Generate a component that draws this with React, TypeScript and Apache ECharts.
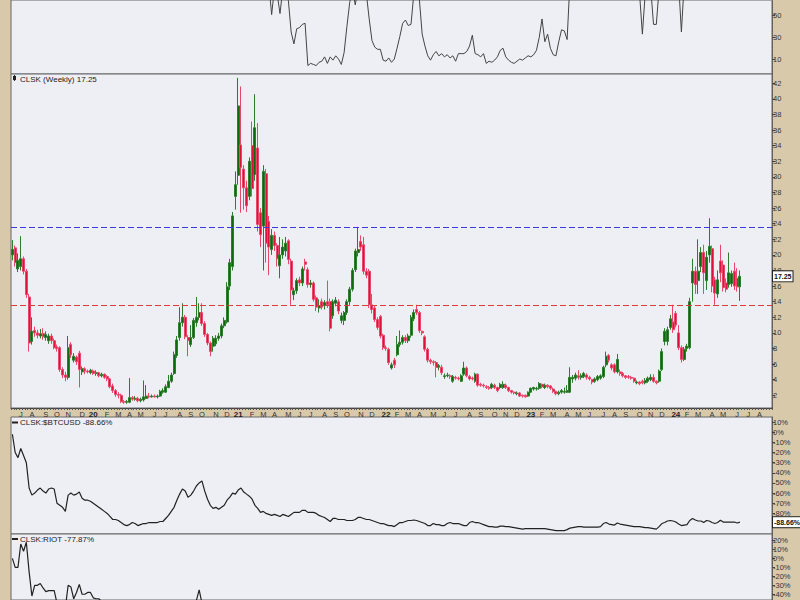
import React, { useEffect, useRef } from 'react';
import * as echarts from 'echarts';

const START_UTC = Date.UTC(2019, 5, 14);
const WEEK_COUNT = 273;
const MONTH_LETTERS = ['J', 'F', 'M', 'A', 'M', 'J', 'J', 'A', 'S', 'O', 'N', 'D'];

// [open, close, low, high] weekly
const candles: number[][] = [
  [20.0, 20.7, 19.3, 21.9], [20.9, 19.0, 18.5, 21.2], [18.2, 19.3, 17.8, 20.2], [18.5, 19.5, 18.0, 22.4], [19.5, 17.9, 17.5, 19.8],
  [17.9, 14.9, 14.5, 18.2], [14.6, 8.7, 7.6, 15.0], [8.9, 10.2, 8.5, 12.0], [10.3, 10.0, 9.5, 10.8], [10.0, 9.7, 9.3, 10.4],
  [9.6, 9.9, 9.3, 10.5], [9.9, 9.5, 9.1, 10.6], [9.4, 9.8, 9.0, 10.2], [9.0, 9.6, 8.6, 9.9], [9.6, 9.0, 8.6, 9.9],
  [9.0, 8.1, 7.9, 9.3], [8.2, 8.0, 7.6, 8.5], [8.1, 5.3, 5.0, 8.3], [5.3, 4.6, 4.2, 5.6], [4.6, 4.3, 3.8, 5.0],
  [4.3, 8.1, 4.0, 9.6], [8.5, 7.2, 6.8, 8.8], [6.5, 7.0, 6.2, 7.4], [6.9, 6.3, 5.9, 7.1], [7.4, 5.3, 3.0, 7.7],
  [5.0, 5.4, 4.6, 5.7], [5.4, 5.1, 4.7, 5.6], [5.1, 5.0, 4.8, 5.3], [4.9, 5.2, 4.7, 5.4], [5.1, 4.8, 4.6, 5.3],
  [4.8, 4.9, 4.5, 5.2], [4.9, 4.5, 4.3, 5.0], [4.5, 4.7, 4.3, 4.9], [4.7, 4.3, 4.1, 4.8], [4.4, 4.1, 3.8, 4.6],
  [4.1, 3.1, 2.9, 4.2], [3.2, 2.6, 2.3, 3.5], [2.6, 2.1, 1.8, 2.8], [2.1, 2.0, 1.6, 2.4], [2.0, 1.2, 1.0, 2.2],
  [1.2, 1.1, 0.9, 1.4], [1.1, 1.2, 0.9, 1.4], [1.1, 1.7, 1.0, 4.2], [1.7, 1.5, 1.3, 1.9], [1.5, 1.6, 1.3, 1.9],
  [1.6, 1.3, 1.1, 1.8], [1.3, 1.5, 1.1, 1.7], [1.4, 1.8, 1.2, 3.9], [1.6, 1.9, 1.5, 3.3], [1.9, 1.8, 1.6, 2.3],
  [1.8, 1.9, 1.7, 2.1], [1.9, 1.8, 1.7, 2.1], [1.8, 1.9, 1.6, 2.1], [1.9, 2.5, 1.8, 2.7], [2.4, 2.6, 2.2, 2.9],
  [2.4, 3.1, 2.3, 3.4], [3.0, 3.8, 2.9, 4.6], [3.8, 4.6, 3.6, 4.9], [4.8, 7.2, 4.6, 7.6], [7.1, 9.1, 6.8, 9.6],
  [9.4, 11.3, 9.0, 13.3], [11.3, 12.0, 10.8, 13.8], [12.0, 9.5, 9.2, 12.3], [9.4, 9.0, 7.0, 9.7], [8.5, 9.4, 8.2, 11.0],
  [9.4, 11.6, 9.2, 11.9], [11.3, 12.0, 10.8, 14.6], [12.0, 12.6, 11.6, 13.8], [12.6, 11.2, 10.9, 13.8], [11.2, 9.8, 9.5, 11.5],
  [9.8, 8.7, 8.4, 10.0], [8.7, 7.6, 7.0, 8.9], [8.3, 9.3, 7.6, 9.6], [8.6, 9.3, 8.3, 9.7], [9.3, 9.6, 9.0, 10.0],
  [9.6, 10.9, 9.3, 11.2], [10.9, 11.6, 10.6, 12.0], [11.4, 15.9, 11.2, 16.5], [16.0, 19.0, 15.5, 19.5], [18.5, 25.0, 18.0, 25.5],
  [27.5, 29.0, 25.8, 30.7], [30.2, 39.1, 29.0, 42.7], [34.1, 31.2, 25.4, 41.6], [31.0, 28.6, 25.8, 31.5], [28.6, 26.3, 25.5, 29.5],
  [27.5, 32.0, 27.0, 32.5], [34.0, 28.5, 27.5, 37.1], [30.3, 36.3, 29.5, 40.6], [33.7, 23.9, 23.0, 36.9], [25.4, 22.6, 21.0, 26.0],
  [23.7, 30.7, 18.0, 31.5], [30.4, 21.5, 19.0, 31.0], [24.3, 21.0, 17.4, 25.0], [20.7, 22.5, 20.0, 23.3], [22.5, 21.2, 20.5, 23.0],
  [21.2, 19.5, 18.5, 21.5], [18.6, 20.0, 17.0, 22.3], [20.0, 21.0, 19.5, 22.0], [20.5, 21.5, 19.8, 22.3], [21.8, 19.4, 18.8, 22.0],
  [19.2, 15.5, 13.6, 19.5], [14.9, 15.4, 14.2, 15.8], [15.4, 16.7, 15.0, 17.0], [16.8, 16.4, 16.0, 17.2], [16.4, 18.2, 16.0, 18.5],
  [19.1, 18.8, 18.0, 19.5], [18.1, 16.2, 15.8, 18.4], [16.2, 16.4, 15.8, 16.8], [16.4, 14.3, 14.0, 16.6], [14.5, 13.3, 12.8, 14.8],
  [13.2, 13.5, 12.6, 14.3], [14.0, 13.3, 13.0, 14.4], [13.5, 13.9, 13.0, 14.2], [14.0, 13.6, 13.2, 16.7], [14.0, 10.6, 10.2, 14.4],
  [12.2, 14.0, 11.8, 14.3], [13.8, 14.2, 13.4, 14.6], [14.0, 12.8, 12.4, 14.3], [11.6, 12.2, 11.2, 12.6], [11.6, 12.6, 11.0, 12.8],
  [12.6, 14.0, 12.3, 14.3], [14.0, 15.6, 13.6, 15.9], [15.6, 18.0, 15.3, 18.3], [18.1, 20.5, 17.8, 20.8], [20.3, 20.7, 19.8, 23.6],
  [21.7, 21.0, 20.5, 22.5], [21.3, 17.9, 17.5, 22.3], [17.9, 17.4, 17.0, 18.3], [17.9, 13.6, 13.2, 18.2], [13.6, 13.0, 12.5, 15.0],
  [13.2, 11.7, 11.4, 13.5], [11.7, 10.7, 10.4, 12.0], [12.1, 9.6, 9.3, 12.3], [9.7, 8.1, 7.8, 9.9], [8.1, 8.0, 7.7, 8.4],
  [7.9, 6.2, 5.9, 8.1], [5.5, 5.9, 5.3, 6.2], [6.5, 5.9, 5.5, 6.8], [7.2, 8.5, 7.0, 9.6], [8.5, 8.8, 8.2, 10.3],
  [8.8, 9.4, 8.5, 9.7], [9.4, 9.0, 8.7, 9.7], [9.0, 9.6, 8.7, 9.9], [9.7, 12.0, 9.4, 12.3], [11.8, 12.6, 11.5, 13.0],
  [13.0, 12.6, 12.3, 13.6], [12.6, 10.3, 10.0, 12.8], [10.2, 10.0, 9.7, 10.3], [9.5, 7.9, 7.6, 9.7], [7.9, 6.5, 6.2, 8.1],
  [6.5, 6.3, 6.0, 6.7], [6.3, 6.2, 5.8, 6.5], [6.2, 5.6, 4.3, 6.4], [5.6, 5.8, 5.2, 6.0], [5.6, 4.9, 4.6, 5.9],
  [4.4, 4.5, 4.1, 4.8], [4.5, 4.6, 4.3, 4.9], [4.5, 4.4, 4.1, 4.7], [3.8, 4.4, 3.6, 4.6], [4.3, 4.2, 4.0, 4.5],
  [4.2, 4.1, 3.9, 4.4], [3.8, 4.5, 3.7, 4.7], [4.7, 5.5, 4.5, 6.3], [5.5, 4.5, 4.3, 5.7], [4.4, 4.1, 3.9, 4.6],
  [4.2, 4.1, 3.9, 4.4], [3.8, 4.7, 3.6, 4.9], [4.7, 3.3, 3.1, 4.8], [3.4, 3.3, 3.1, 3.6], [3.3, 3.2, 3.0, 3.5],
  [3.1, 3.0, 2.8, 3.3], [3.0, 2.9, 2.7, 3.2], [3.0, 3.4, 2.8, 3.6], [3.3, 3.0, 2.8, 3.5], [3.0, 2.6, 2.4, 3.1],
  [3.0, 3.4, 2.8, 3.6], [3.0, 3.4, 2.8, 3.8], [3.3, 3.0, 2.8, 3.5], [3.0, 2.6, 2.4, 3.1], [2.6, 2.4, 2.2, 2.7],
  [2.4, 2.3, 2.1, 2.5], [2.2, 2.3, 2.0, 2.5], [2.3, 1.9, 1.8, 2.4], [2.0, 1.9, 1.7, 2.1], [2.0, 1.8, 1.7, 2.1],
  [1.9, 2.4, 1.8, 2.5], [2.4, 2.9, 2.3, 3.0], [2.8, 3.0, 2.6, 3.1], [2.8, 2.9, 2.6, 3.1], [2.9, 3.5, 2.7, 3.7],
  [3.4, 3.1, 2.9, 3.5], [3.0, 3.3, 2.8, 3.5], [3.3, 3.1, 2.9, 3.4], [3.2, 2.9, 2.7, 3.3], [2.8, 2.5, 2.3, 3.0],
  [2.5, 2.2, 2.0, 2.6], [2.2, 2.4, 2.0, 2.6], [2.4, 2.6, 2.2, 2.8], [2.4, 2.5, 2.2, 3.0], [2.4, 2.6, 2.3, 3.3],
  [2.4, 4.3, 2.3, 5.6], [4.1, 4.3, 3.6, 4.6], [4.2, 4.6, 3.9, 4.9], [4.5, 4.3, 4.0, 5.2], [4.3, 4.5, 4.0, 4.8],
  [4.4, 4.8, 4.2, 5.0], [4.6, 4.3, 4.0, 4.8], [4.3, 4.1, 3.9, 4.5], [4.0, 3.7, 3.4, 4.1], [3.8, 4.1, 3.6, 4.3],
  [4.0, 4.4, 3.8, 4.6], [4.2, 4.5, 4.0, 4.7], [4.4, 5.6, 4.2, 5.8], [5.9, 7.0, 5.6, 7.6], [7.1, 6.5, 6.2, 7.3],
  [5.9, 5.5, 5.2, 6.1], [5.9, 5.0, 4.8, 6.1], [5.0, 6.6, 4.8, 7.3], [5.0, 4.8, 4.5, 5.3], [4.8, 4.5, 4.3, 5.0],
  [4.5, 4.3, 4.1, 4.6], [4.4, 4.3, 4.1, 4.6], [4.3, 4.2, 4.0, 4.5], [4.2, 3.8, 3.6, 4.3], [3.6, 3.7, 3.4, 3.9],
  [3.7, 3.5, 3.3, 3.8], [3.8, 3.6, 3.4, 4.0], [3.6, 3.9, 3.4, 4.2], [3.8, 4.2, 3.6, 4.4], [4.0, 4.3, 3.8, 4.7],
  [4.3, 3.8, 3.6, 4.7], [3.8, 3.6, 3.4, 3.9], [3.8, 5.1, 3.6, 5.3], [5.3, 7.6, 5.1, 8.0], [8.9, 10.2, 8.4, 10.6],
  [8.9, 10.4, 8.4, 10.8], [10.7, 11.8, 10.4, 12.3], [11.4, 10.4, 10.0, 13.6], [12.5, 11.0, 10.7, 12.8], [10.0, 8.1, 7.8, 11.0],
  [8.1, 6.6, 6.2, 8.4], [6.6, 7.9, 6.4, 8.2], [8.0, 8.3, 7.6, 8.6], [8.1, 14.0, 7.9, 14.5], [16.4, 17.9, 14.0, 19.5],
  [17.9, 16.2, 15.0, 18.5], [16.7, 17.9, 15.0, 22.0], [18.5, 20.3, 17.8, 21.0], [20.3, 17.7, 15.0, 21.3], [16.7, 19.7, 15.5, 20.5],
  [20.0, 21.1, 19.0, 24.7], [20.8, 16.0, 15.2, 21.2], [16.8, 15.1, 13.6, 17.2], [15.0, 16.8, 14.5, 18.0], [19.2, 17.7, 16.5, 21.3],
  [18.7, 15.8, 15.3, 19.3], [16.4, 15.6, 15.2, 17.0], [16.2, 17.7, 15.8, 20.3], [16.3, 17.6, 15.9, 18.0], [17.9, 16.0, 15.5, 19.0],
  [17.0, 15.9, 15.3, 18.3], [15.9, 17.25, 14.1, 18.0],
];

// upper indicator panel (values above ~64 run off the top of the panel)
const oscillator: number[] = [
  80, 80, 80, 80, 80, 80, 80, 80, 80, 80, 80, 80, 80, 80, 80, 80, 80, 80, 80, 80,
  80, 80, 80, 80, 80, 80, 80, 80, 80, 80, 80, 80, 80, 80, 80, 80, 80, 80, 80, 80,
  80, 80, 80, 80, 80, 80, 80, 80, 80, 80, 80, 80, 80, 80, 80, 80, 80, 80, 80, 80,
  80, 80, 80, 80, 80, 80, 80, 80, 80, 80, 80, 80, 80, 80, 80, 80, 80, 80, 80, 80,
  80, 80, 80, 80, 80, 80, 80, 80, 80, 80, 80, 80,
  80, 51, 75, 70, 52, 75, 70, 64, 35, 24, 38, 39, 42, 43, 4, 6, 5, 4, 7, 8,
  12, 6, 12, 9, 13, 10, 5, 16, 40, 62, 75, 60, 75, 80, 80, 70, 47, 27, 21, 19,
  19, 9, 8, 11, 7, 10, 20, 31, 43, 46, 41, 42, 70, 80, 65, 33, 22, 13, 9, 14,
  17, 13, 15, 12, 14, 11, 13, 8, 15, 15, 15, 17, 22, 32, 15, 14, 12, 15, 6, 8,
  7, 9, 12, 18, 20, 12, 9, 7, 6, 8, 10, 9, 11, 13, 12, 14, 18, 30, 47, 26,
  33, 20, 14, 13, 26, 37, 36, 28,
  80, 80, 80, 80, 80, 80, 80, 80, 80, 80, 80, 80, 80, 80, 80, 80, 80, 80, 80, 80, 80, 80, 80, 80, 80,
  70, 33, 70, 80, 75, 42, 42, 75, 80, 80, 80, 80, 80, 80, 80, 35,
  80, 80, 80, 80, 80, 80, 80, 80, 80, 80, 80, 80, 80, 80, 80, 80, 80, 80, 80, 80, 80,
];

// CLSK:$BTCUSD performance, %
const btcRatio: number[] = [
  -2, -20, -25, -16, -23, -30, -55, -62, -60, -57, -55, -58, -60, -56, -55, -56, -70, -72, -74, -78,
  -62, -60, -62, -61, -59, -65, -67, -67, -68, -70, -72, -74, -76, -78, -80, -83, -86, -86, -87, -89,
  -91, -92, -91, -89, -90, -92, -91, -90, -90, -89, -89, -89, -89, -88, -88, -85, -82, -78, -74, -67,
  -61, -56, -58, -64, -62, -58, -53, -50, -48, -58, -66, -72, -75, -74, -76, -74, -72, -67, -64, -60,
  -61, -57, -55, -59, -61, -63, -66, -72, -75, -79, -78, -80, -81, -82, -81, -82, -83, -81, -82, -83,
  -81, -79, -79, -79, -77, -77, -79, -79, -79, -80, -82, -83, -84, -86, -88, -85, -85, -86, -86, -86,
  -87, -87, -87, -86, -84, -84, -85, -86, -86, -87, -88, -89, -90, -90, -91, -92, -92, -93, -91, -89,
  -89, -88, -87, -87, -86.5, -87, -88, -89, -90, -92, -92, -90, -91, -91, -92, -92, -90, -89, -90, -90,
  -90, -91, -92, -92, -89, -88, -89, -89, -90, -91, -92, -93, -93, -93.5, -93.5, -92.5, -92.5, -93, -93, -93.5,
  -94, -94.5, -95, -95.5, -95, -95, -95, -95, -95, -95, -95, -95, -95.5, -96, -96.5, -97, -97, -97, -97, -96,
  -94.5, -94, -93.5, -93, -93, -93.5, -93.5, -93.5, -93.5, -93.5, -93.5, -93, -90, -89, -90.5, -91, -91.5, -89.5, -90.5, -91,
  -91.5, -92, -92.5, -93, -93, -93, -93.5, -94, -94, -94.5, -95, -95.5, -93, -90, -89, -87.5, -87, -87.5, -88.5, -90.5,
  -92, -91.5, -91, -87, -85, -86.5, -87.5, -87.5, -89, -87, -87.5, -89, -90, -89, -86.7, -88.5, -88.5, -88.5, -88.5, -88.5,
  -89.5, -88.66,
];

// CLSK:RIOT performance, % (most of it runs below the visible window)
const riotRatio: number[] = [
  0, -10, -10, 16, 8, 18, -15, -42, -30, -30, -28, -33, -37, -36, -36, -36, -50, -60, -65, -55,
  -30, -32, -45, -38, -29, -40, -40, -38, -38, -44, -45, -45, -48, -55, -58, -62, -65, -68, -70, -70,
  -68, -66, -65, -64, -62, -60, -62, -63, -64, -62, -60, -58, -60, -62, -60, -58, -56, -55, -54, -55,
  -56, -55, -58, -56, -55, -52, -47, -35, -50, -55, -58, -60, -62, -60, -58, -57, -56, -55, -56, -58,
  -60, -62, -60, -62, -63, -62, -64, -63, -65, -66, -64, -65, -66, -65, -64, -66, -67, -66, -65, -66,
  -68, -67, -66, -65, -66, -67, -68, -69, -70, -70, -71, -70, -69, -70, -72, -71, -70, -70, -71, -70,
  -68, -67, -66, -65, -64, -66, -68, -70, -72, -73, -74, -75, -76, -77, -78, -77, -76, -75, -74, -73,
  -73, -74, -75, -76, -77, -78, -78, -79, -80, -80, -79, -80, -81, -80, -79, -80, -81, -80, -79, -78,
  -78, -79, -80, -80, -81, -80, -79, -80, -81, -82, -82, -83, -82, -81, -82, -83, -84, -83, -83, -84,
  -84, -85, -84, -84, -83, -82, -83, -84, -83, -82, -82, -83, -84, -84, -85, -85, -84, -84, -83, -82,
  -80, -80, -81, -81, -80, -81, -82, -82, -83, -82, -82, -81, -80, -79, -80, -81, -81, -80, -81, -82,
  -82, -83, -83, -82, -82, -83, -83, -84, -83, -83, -84, -84, -82, -80, -79, -78, -79, -80, -81, -82,
  -81, -80, -80, -76, -74, -75, -76, -77, -78, -77, -77, -78, -79, -78, -77, -78, -78, -79, -78, -78,
  -78, -77.87,
];

const oscTicks = [10, 30, 50];
const priceTicks = [2, 4, 6, 8, 10, 12, 14, 16, 18, 20, 22, 24, 26, 28, 30, 32, 34, 36, 38, 40, 42];
const btcTicks = [10, 0, -10, -20, -30, -40, -50, -60, -70, -80];
const riotTicks = [20, 10, 0, -10, -20, -30, -40];
const resistanceLevel = 23.54;
const supportLevel = 13.6;

const TAN = '#D9C9AB';
const PANEL_BG = '#EEEFF5';
const FONT = 'Liberation Sans';
const CLEAR = 'rgba(0,0,0,0)';

function buildWeeks(): string[] {
  const out: string[] = [];
  for (let i = 0; i < WEEK_COUNT; i++) {
    out.push(new Date(START_UTC + i * 7 * 86400000).toISOString().slice(0, 10));
  }
  return out;
}

export default function App() {
  const ref = useRef<HTMLDivElement>(null);
  useEffect(() => {
    if (!ref.current) return;
    const chart = echarts.init(ref.current, undefined, { renderer: 'svg' });
    const weeks = buildWeeks();
    const lastClose = candles[candles.length - 1][1];
    const lastBtc = btcRatio[btcRatio.length - 1];

    const grids = [
      { left: 11, right: 28, top: 0, height: 74 },
      { left: 11, right: 28, top: 74, height: 334 },
      { left: 11, right: 28, top: 417, height: 117 },
      { left: 11, right: 28, top: 534, height: 66 },
    ].map((g) => ({ ...g, show: true, backgroundColor: PANEL_BG, borderColor: '#666', borderWidth: 1 }));

    const xAxes = grids.map((_, gi) => ({
      type: 'category',
      gridIndex: gi,
      data: weeks,
      boundaryGap: true,
      show: gi === 1,
      axisLine: { show: true, lineStyle: { color: '#444', width: 1 } },
      axisTick: { show: true, interval: 0, length: 2, lineStyle: { color: '#555' } },
      axisLabel: {
        show: gi === 1,
        interval: (_idx: number, val: string) => Number(val.slice(8, 10)) <= 7,
        formatter: (val: string) => {
          const m = Number(val.slice(5, 7)) - 1;
          return m === 0 ? '{y|' + val.slice(2, 4) + '}' : MONTH_LETTERS[m];
        },
        fontFamily: FONT,
        fontSize: 7.5,
        color: '#333',
        margin: 2,
        rich: { y: { fontFamily: FONT, fontSize: 8, fontWeight: 'bold', color: '#222' } },
      },
      splitLine: { show: false },
    }));

    const mkY = (gi: number, min: number, max: number, ticks: number[], fmt: (v: number) => string) => ({
      type: 'value',
      gridIndex: gi,
      position: 'right',
      min,
      max,
      axisLine: { show: true, lineStyle: { color: '#555', type: 'dotted' } },
      axisTick: { show: true, customValues: ticks, length: 3, lineStyle: { color: '#444' } },
      axisLabel: {
        show: true,
        customValues: ticks,
        showMinLabel: true,
        showMaxLabel: true,
        formatter: fmt,
        fontFamily: FONT,
        fontSize: 7.5,
        color: '#333',
        margin: 1,
      },
      splitLine: { show: false },
    });

    const yAxes = [
      mkY(0, -3.8, 64.5, oscTicks, (v) => String(v)),
      mkY(1, 0.37, 43.19, priceTicks, (v) => String(v)),
      mkY(2, -100.3, 15, btcTicks, (v) => v + '%'),
      mkY(3, -46.4, 27.2, riotTicks, (v) => v + '%'),
    ];

    const valueTag = (text: string) => ({
      show: true,
      position: 'end',
      distance: 1,
      formatter: text,
      backgroundColor: '#fff',
      borderColor: '#222',
      borderWidth: 1,
      padding: [2, 1, 1, 1],
      fontFamily: FONT,
      fontSize: 7,
      fontWeight: 'bold',
      color: '#111',
      opacity: 1,
    });

    chart.setOption({
      animation: false,
      backgroundColor: TAN,
      grid: grids,
      xAxis: xAxes,
      yAxis: yAxes,
      series: [
        {
          type: 'line',
          xAxisIndex: 0,
          yAxisIndex: 0,
          data: oscillator,
          showSymbol: false,
          clip: true,
          lineStyle: { color: '#444', width: 1 },
        },
        {
          type: 'candlestick',
          xAxisIndex: 1,
          yAxisIndex: 1,
          data: candles,
          barWidth: 2.5,
          itemStyle: {
            color: '#0B6A0B',
            color0: '#E0103E',
            borderColor: '#2E7D2E',
            borderColor0: '#E8476A',
            borderWidth: 1,
          },
          markLine: {
            silent: true,
            symbol: 'none',
            label: { show: false },
            data: [
              { yAxis: resistanceLevel, lineStyle: { color: '#3A3AE0', type: [6, 3], width: 1 } },
              { yAxis: supportLevel, lineStyle: { color: '#E03A3A', type: [6, 3], width: 1 } },
              { yAxis: lastClose, lineStyle: { color: CLEAR, width: 1 }, label: valueTag(lastClose.toFixed(2)) },
            ],
          },
        },
        {
          type: 'line',
          xAxisIndex: 2,
          yAxisIndex: 2,
          data: btcRatio,
          showSymbol: false,
          clip: true,
          lineStyle: { color: '#222', width: 1.2 },
          markLine: {
            silent: true,
            symbol: 'none',
            data: [{ yAxis: lastBtc, lineStyle: { color: CLEAR, width: 1 }, label: valueTag(lastBtc.toFixed(2) + '%') }],
          },
        },
        {
          type: 'line',
          xAxisIndex: 3,
          yAxisIndex: 3,
          data: riotRatio,
          showSymbol: false,
          clip: true,
          lineStyle: { color: '#222', width: 1.2 },
        },
      ],
      graphic: [
        { type: 'rect', shape: { x: 13, y: 76, width: 3, height: 4 }, style: { fill: '#222' } },
        { type: 'line', shape: { x1: 14.5, y1: 75, x2: 14.5, y2: 81 }, style: { stroke: '#222', lineWidth: 1 } },
        { type: 'text', x: 20, y: 79, style: { text: 'CLSK (Weekly) 17.25', font: `8px "${FONT}"`, fill: '#222', verticalAlign: 'middle' } },
        { type: 'line', shape: { x1: 12, y1: 422.5, x2: 18, y2: 422.5 }, style: { stroke: '#222', lineWidth: 2 } },
        { type: 'text', x: 20, y: 422.5, style: { text: 'CLSK:$BTCUSD -88.66%', font: `8px "${FONT}"`, fill: '#222', verticalAlign: 'middle' } },
        { type: 'line', shape: { x1: 12, y1: 539, x2: 18, y2: 539 }, style: { stroke: '#222', lineWidth: 2 } },
        { type: 'text', x: 20, y: 539, style: { text: 'CLSK:RIOT -77.87%', font: `8px "${FONT}"`, fill: '#222', verticalAlign: 'middle' } },
      ],
    });
    return () => chart.dispose();
  }, []);
  return <div ref={ref} style={{ position: 'absolute', left: 0, top: 0, width: 800, height: 600 }} />;
}
